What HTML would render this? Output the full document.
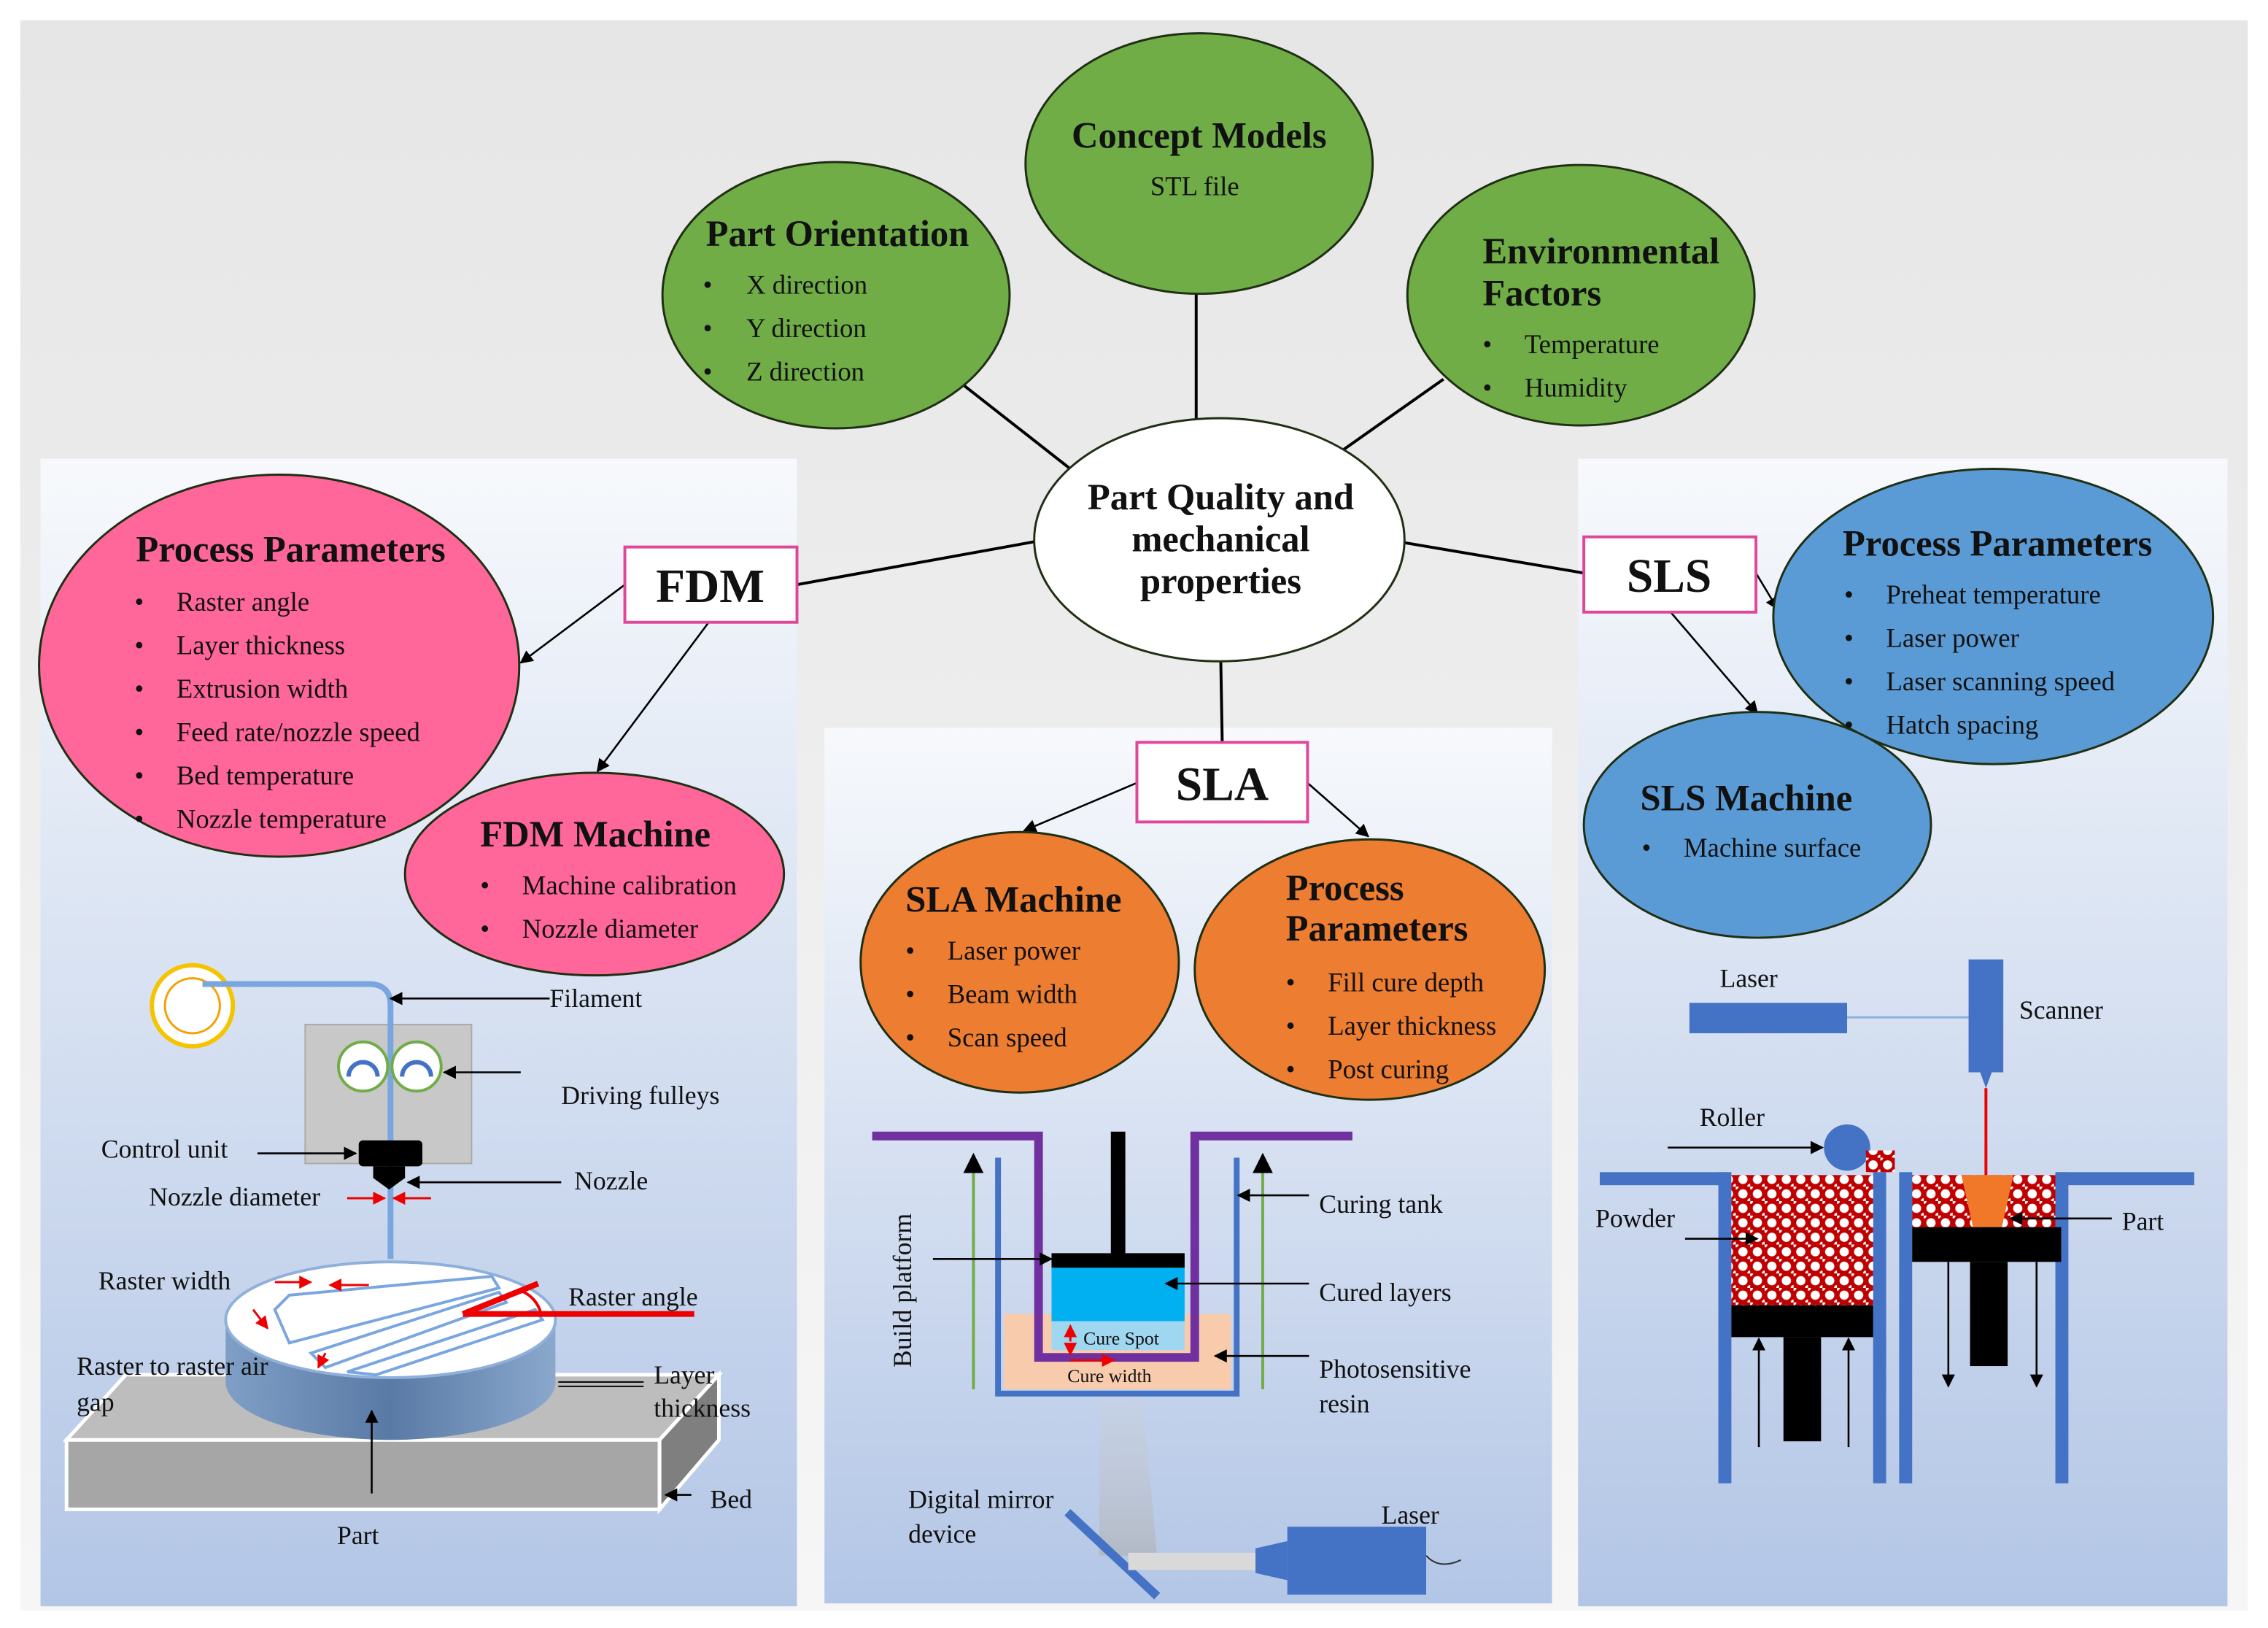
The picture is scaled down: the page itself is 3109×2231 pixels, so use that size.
<!DOCTYPE html>
<html><head><meta charset="utf-8"><style>
html,body{margin:0;padding:0;background:#fff}
svg{display:block}
text{font-family:"Liberation Serif",serif;fill:#111}
.h{font-weight:bold;font-size:25.5px}
.b{font-size:18.5px}
.s{font-size:18px}
</style></head><body>
<svg width="3109" height="2231" viewBox="0 0 1568 1125" preserveAspectRatio="none" xmlns="http://www.w3.org/2000/svg">
<defs>
<linearGradient id="bg" x1="0" y1="0" x2="0" y2="1"><stop offset="0" stop-color="#e6e6e6"/><stop offset="1" stop-color="#f6f6f6"/></linearGradient>
<linearGradient id="pn" x1="0" y1="0" x2="0" y2="1"><stop offset="0" stop-color="#f7f9fc"/><stop offset="1" stop-color="#b3c6e6"/></linearGradient>
<linearGradient id="cyl" x1="0" y1="0" x2="1" y2="0"><stop offset="0" stop-color="#7f9fc6"/><stop offset="0.5" stop-color="#5a7aa6"/><stop offset="1" stop-color="#8aa8cc"/></linearGradient>
<linearGradient id="beam" x1="0" y1="0" x2="0" y2="1"><stop offset="0" stop-color="#d0d0d0" stop-opacity="0.2"/><stop offset="1" stop-color="#b0b0b0" stop-opacity="0.6"/></linearGradient>
<pattern id="pw" width="10" height="10" patternUnits="userSpaceOnUse"><rect width="10" height="10" fill="#c00000"/><circle cx="5" cy="5" r="3.2" fill="#fff"/><circle cx="0" cy="0" r="2" fill="#fff"/><circle cx="10" cy="10" r="2" fill="#fff"/></pattern>
<marker id="a" viewBox="0 0 10 10" refX="9" refY="5" markerWidth="7" markerHeight="7" orient="auto-start-reverse"><path d="M0,0L10,5L0,10z" fill="#000"/></marker>
<marker id="r" viewBox="0 0 10 10" refX="9" refY="5" markerWidth="6" markerHeight="6" orient="auto-start-reverse"><path d="M0,0L10,5L0,10z" fill="#e00"/></marker>
</defs>
<rect width="1568" height="1125" fill="#fff"/>
<rect x="14" y="14" width="1540" height="1099" fill="url(#bg)"/>
<rect x="28" y="317" width="523" height="793" fill="url(#pn)"/>
<rect x="570" y="503" width="503" height="605" fill="url(#pn)"/>
<rect x="1091" y="317" width="449" height="793" fill="url(#pn)"/>

<g stroke="#000" stroke-width="2" fill="none">
<line x1="827" y1="203" x2="827" y2="290"/>
<line x1="666" y1="266" x2="740" y2="324"/>
<line x1="998" y1="262" x2="927" y2="312"/>
<line x1="551" y1="404" x2="717" y2="374"/>
<line x1="971" y1="375" x2="1095" y2="396"/>
<line x1="844" y1="457" x2="845" y2="513"/>
</g>
<g stroke="#000" stroke-width="1.3" fill="none" marker-end="url(#a)">
<line x1="432" y1="404" x2="360" y2="458"/>
<line x1="490" y1="430" x2="413" y2="533"/>
<line x1="786" y1="541" x2="708" y2="574"/>
<line x1="904" y1="541" x2="946" y2="578"/>
<line x1="1214" y1="396" x2="1229" y2="421"/>
<line x1="1155" y1="423" x2="1215" y2="493"/>
</g>

<g stroke="#1f2f14" stroke-width="1.5">
<ellipse cx="829" cy="113" rx="120" ry="90" fill="#70ad47"/>
<ellipse cx="578" cy="204" rx="120" ry="92" fill="#70ad47"/>
<ellipse cx="1093" cy="204" rx="120" ry="90" fill="#70ad47"/>
<ellipse cx="843" cy="373" rx="128" ry="84" fill="#fff"/>
<ellipse cx="193" cy="460" rx="166" ry="132" fill="#ff6699"/>
<ellipse cx="411" cy="604" rx="131" ry="70" fill="#ff6699"/>
<ellipse cx="705" cy="665" rx="110" ry="90" fill="#ed7d31"/>
<ellipse cx="947" cy="670" rx="121" ry="90" fill="#ed7d31"/>
<ellipse cx="1378" cy="426" rx="152" ry="102" fill="#5b9bd5"/>
<ellipse cx="1215" cy="570" rx="120" ry="78" fill="#5b9bd5"/>
</g>
<text class="h" x="829" y="102" text-anchor="middle">Concept Models</text>
<text class="b" x="826" y="135" text-anchor="middle">STL file</text>
<text class="h" x="488" y="170">Part Orientation</text>
<g class="b"><text x="486" y="203">•</text><text x="516" y="203">X direction</text>
<text x="486" y="233">•</text><text x="516" y="233">Y direction</text>
<text x="486" y="263">•</text><text x="516" y="263">Z direction</text></g>
<text class="h" x="1025" y="182">Environmental</text>
<text class="h" x="1025" y="211">Factors</text>
<g class="b"><text x="1025" y="244">•</text><text x="1054" y="244">Temperature</text>
<text x="1025" y="274">•</text><text x="1054" y="274">Humidity</text></g>
<text class="h" x="844" y="352" text-anchor="middle">Part Quality and</text>
<text class="h" x="844" y="381" text-anchor="middle">mechanical</text>
<text class="h" x="844" y="410" text-anchor="middle">properties</text>

<text class="h" x="94" y="388">Process Parameters</text>
<g class="b"><text x="93" y="422">•</text><text x="122" y="422">Raster angle</text>
<text x="93" y="452">•</text><text x="122" y="452">Layer thickness</text>
<text x="93" y="482">•</text><text x="122" y="482">Extrusion width</text>
<text x="93" y="512">•</text><text x="122" y="512">Feed rate/nozzle speed</text>
<text x="93" y="542">•</text><text x="122" y="542">Bed temperature</text>
<text x="93" y="572">•</text><text x="122" y="572">Nozzle temperature</text></g>
<text class="h" x="332" y="585">FDM Machine</text>
<g class="b"><text x="332" y="618">•</text><text x="361" y="618">Machine calibration</text>
<text x="332" y="648">•</text><text x="361" y="648">Nozzle diameter</text></g>

<text class="h" x="626" y="630">SLA Machine</text>
<g class="b"><text x="626" y="663">•</text><text x="655" y="663">Laser power</text>
<text x="626" y="693">•</text><text x="655" y="693">Beam width</text>
<text x="626" y="723">•</text><text x="655" y="723">Scan speed</text></g>
<text class="h" x="889" y="622">Process</text>
<text class="h" x="889" y="650">Parameters</text>
<g class="b"><text x="889" y="685">•</text><text x="918" y="685">Fill cure depth</text>
<text x="889" y="715">•</text><text x="918" y="715">Layer thickness</text>
<text x="889" y="745">•</text><text x="918" y="745">Post curing</text></g>

<text class="h" x="1274" y="384">Process Parameters</text>
<g class="b"><text x="1275" y="417">•</text><text x="1304" y="417">Preheat temperature</text>
<text x="1275" y="447">•</text><text x="1304" y="447">Laser power</text>
<text x="1275" y="477">•</text><text x="1304" y="477">Laser scanning speed</text>
<text x="1275" y="507">•</text><text x="1304" y="507">Hatch spacing</text></g>
<text class="h" x="1134" y="560">SLS Machine</text>
<g class="b"><text x="1135" y="592">•</text><text x="1164" y="592">Machine surface</text></g>

<g fill="#fff" stroke="#e0479a" stroke-width="2">
<rect x="432" y="378" width="119" height="52"/>
<rect x="786" y="513" width="118" height="55"/>
<rect x="1095" y="371" width="119" height="52"/>
</g>
<text x="491" y="416" text-anchor="middle" style="font-weight:bold;font-size:33px">FDM</text>
<text x="845" y="553" text-anchor="middle" style="font-weight:bold;font-size:33px">SLA</text>
<text x="1154" y="409" text-anchor="middle" style="font-weight:bold;font-size:33px">SLS</text>

<!-- FDM illustration -->
<circle cx="133" cy="695" r="28" fill="#fff" stroke="#f5c400" stroke-width="3"/>
<circle cx="133" cy="695" r="19" fill="none" stroke="#f5a000" stroke-width="1.5"/>
<rect x="211" y="708" width="115" height="96" fill="#c8c8c8" stroke="#aaa"/>
<path d="M140,680 H255 Q270,680 270,695 V870" fill="none" stroke="#7aa6e0" stroke-width="4"/>
<circle cx="251" cy="737" r="17" fill="#fff" stroke="#70ad47" stroke-width="2"/>
<circle cx="288" cy="737" r="17" fill="#fff" stroke="#70ad47" stroke-width="2"/>
<path d="M241,744 A10,10 0 0 1 261,744 M278,744 A10,10 0 0 1 298,744" fill="none" stroke="#4472c4" stroke-width="3"/>
<rect x="248" y="788" width="44" height="18" rx="3" fill="#000"/>
<path d="M258,806 H280 V814 L269,822 L258,814Z" fill="#000"/>
<rect x="46" y="995" width="410" height="48" fill="#a6a6a6" stroke="#fff" stroke-width="2.5"/>
<path d="M46,995 L87,950 H497 L456,995Z" fill="#bdbdbd" stroke="#fff" stroke-width="2.5"/>
<path d="M456,995 L497,950 V995 L456,1043Z" fill="#7f7f7f" stroke="#fff" stroke-width="2.5"/>
<path d="M156,912 V955 A114,40 0 0 0 384,955 V912Z" fill="url(#cyl)"/>
<ellipse cx="270" cy="912" rx="114" ry="40" fill="#fff" stroke="#8fb0d9" stroke-width="2"/>
<g stroke="#7aa6e0" stroke-width="2" fill="none">
<path d="M190,905 L200,895 L340,882 L345,890 L200,928Z"/>
<path d="M215,935 L345,893 L350,900 L225,945Z"/>
<path d="M240,948 L370,905 L375,912 L260,950Z"/>
</g>
<g stroke="#e00" stroke-width="4"><line x1="320" y1="908" x2="480" y2="908"/><line x1="320" y1="908" x2="372" y2="887"/></g>
<path d="M360,892 A22,22 0 0 1 374,908" fill="none" stroke="#e00" stroke-width="2"/>
<g stroke="#000" stroke-width="1.3" fill="none" marker-end="url(#a)">
<line x1="380" y1="690" x2="270" y2="690"/>
<line x1="360" y1="741" x2="307" y2="741"/>
<line x1="178" y1="797" x2="246" y2="797"/>
<line x1="388" y1="817" x2="282" y2="817"/>
<line x1="257" y1="1032" x2="257" y2="975"/>
<line x1="478" y1="1033" x2="460" y2="1033"/>
</g>
<line x1="386" y1="955" x2="445" y2="955" stroke="#000"/><line x1="386" y1="958" x2="445" y2="958" stroke="#000"/>
<g stroke="#e00" stroke-width="1.5" marker-end="url(#r)">
<line x1="240" y1="828" x2="266" y2="828"/><line x1="298" y1="828" x2="272" y2="828"/>
<line x1="190" y1="886" x2="215" y2="886"/><line x1="255" y1="888" x2="228" y2="888"/>
<line x1="175" y1="905" x2="185" y2="918"/><line x1="225" y1="935" x2="220" y2="945"/>
</g>
<g class="s">
<text x="380" y="696">Filament</text>
<text x="388" y="763">Driving fulleys</text>
<text x="70" y="800">Control unit</text>
<text x="397" y="822">Nozzle</text>
<text x="103" y="833">Nozzle diameter</text>
<text x="68" y="891">Raster width</text>
<text x="393" y="902">Raster angle</text>
<text x="53" y="950">Raster to raster air</text>
<text x="53" y="975">gap</text>
<text x="452" y="956">Layer</text>
<text x="452" y="979">thickness</text>
<text x="491" y="1042">Bed</text>
<text x="233" y="1067">Part</text>
</g>

<!-- SLA illustration -->
<path d="M760,965 L790,965 L800,1075 L760,1075Z" fill="url(#beam)"/>
<path d="M690,800 V963 H855 V800" fill="none" stroke="#4472c4" stroke-width="4"/>
<rect x="694" y="908" width="157" height="52" fill="#f8cbad"/>
<path d="M603,785 H718 V938 H826 V785 H935" fill="none" stroke="#7030a0" stroke-width="6"/>
<rect x="727" y="875" width="92" height="38" fill="#00b0f0"/>
<rect x="727" y="913" width="92" height="20" fill="#9fd7f0"/>
<rect x="727" y="866" width="92" height="10" fill="#000"/>
<rect x="768" y="782" width="10" height="86" fill="#000"/>
<g stroke="#70ad47" stroke-width="2" marker-end="url(#a)"><line x1="673" y1="960" x2="673" y2="798"/><line x1="873" y1="960" x2="873" y2="798"/></g>
<g stroke="#000" stroke-width="1.3" marker-end="url(#a)">
<line x1="645" y1="870" x2="727" y2="870"/>
<line x1="905" y1="826" x2="856" y2="826"/>
<line x1="905" y1="887" x2="806" y2="887"/>
<line x1="905" y1="937" x2="840" y2="937"/>
</g>
<g stroke="#e00" stroke-width="1.5" marker-end="url(#r)"><line x1="740" y1="927" x2="740" y2="916"/><line x1="740" y1="929" x2="740" y2="936"/><line x1="740" y1="940" x2="770" y2="940"/></g>
<line x1="738" y1="1045" x2="800" y2="1103" stroke="#4472c4" stroke-width="6"/>
<rect x="780" y="1073" width="90" height="12" fill="#d9d9d9"/>
<path d="M868,1070 L890,1065 V1092 L868,1087Z" fill="#4472c4"/>
<rect x="890" y="1055" width="96" height="47" fill="#4472c4"/>
<path d="M986,1075 Q995,1085 1010,1078" fill="none" stroke="#333"/>
<g class="s">
<text x="912" y="838">Curing tank</text>
<text x="912" y="899">Cured layers</text>
<text x="912" y="952">Photosensitive</text>
<text x="912" y="976">resin</text>
<text x="749" y="929" style="font-size:13px">Cure Spot</text>
<text x="738" y="955" style="font-size:13px">Cure width</text>
<text x="628" y="1042">Digital mirror</text>
<text x="628" y="1066">device</text>
<text x="955" y="1053">Laser</text>
<text transform="translate(630,945) rotate(-90)">Build platform</text>
</g>

<!-- SLS illustration -->
<rect x="1168" y="693" width="109" height="21" fill="#4472c4"/>
<line x1="1277" y1="703" x2="1362" y2="703" stroke="#8fb0d9" stroke-width="1.5"/>
<rect x="1361" y="663" width="24" height="78" fill="#4472c4"/>
<path d="M1369,741 H1377 L1373,752Z" fill="#4472c4"/>
<line x1="1373" y1="752" x2="1373" y2="812" stroke="#e00" stroke-width="2"/>
<g fill="#4472c4">
<rect x="1106" y="810" width="88" height="9"/>
<rect x="1188" y="810" width="9" height="215"/>
<rect x="1295" y="810" width="9" height="215"/>
<rect x="1313" y="810" width="9" height="215"/>
<rect x="1421" y="810" width="9" height="215"/>
<rect x="1421" y="810" width="96" height="9"/>
</g>
<rect x="1197" y="812" width="98" height="90" fill="url(#pw)"/>
<rect x="1322" y="812" width="99" height="36" fill="url(#pw)"/>
<path d="M1356,812 H1392 L1384,848 H1364Z" fill="#f07828"/>
<rect x="1197" y="902" width="98" height="22" fill="#000"/>
<rect x="1233" y="924" width="26" height="72" fill="#000"/>
<rect x="1322" y="848" width="103" height="24" fill="#000"/>
<rect x="1362" y="872" width="26" height="72" fill="#000"/>
<circle cx="1277" cy="793" r="16" fill="#4472c4"/>
<rect x="1290" y="795" width="20" height="15" fill="url(#pw)"/>
<g stroke="#000" stroke-width="1.3" marker-end="url(#a)">
<line x1="1153" y1="793" x2="1260" y2="793"/>
<line x1="1165" y1="856" x2="1215" y2="856"/>
<line x1="1460" y1="842" x2="1390" y2="842"/>
<line x1="1216" y1="1000" x2="1216" y2="925"/>
<line x1="1278" y1="1000" x2="1278" y2="925"/>
<line x1="1347" y1="872" x2="1347" y2="958"/>
<line x1="1408" y1="872" x2="1408" y2="958"/>
</g>
<g class="s">
<text x="1189" y="682">Laser</text>
<text x="1396" y="704">Scanner</text>
<text x="1175" y="778">Roller</text>
<text x="1103" y="848">Powder</text>
<text x="1467" y="850">Part</text>
</g>
</svg>
</body></html>
